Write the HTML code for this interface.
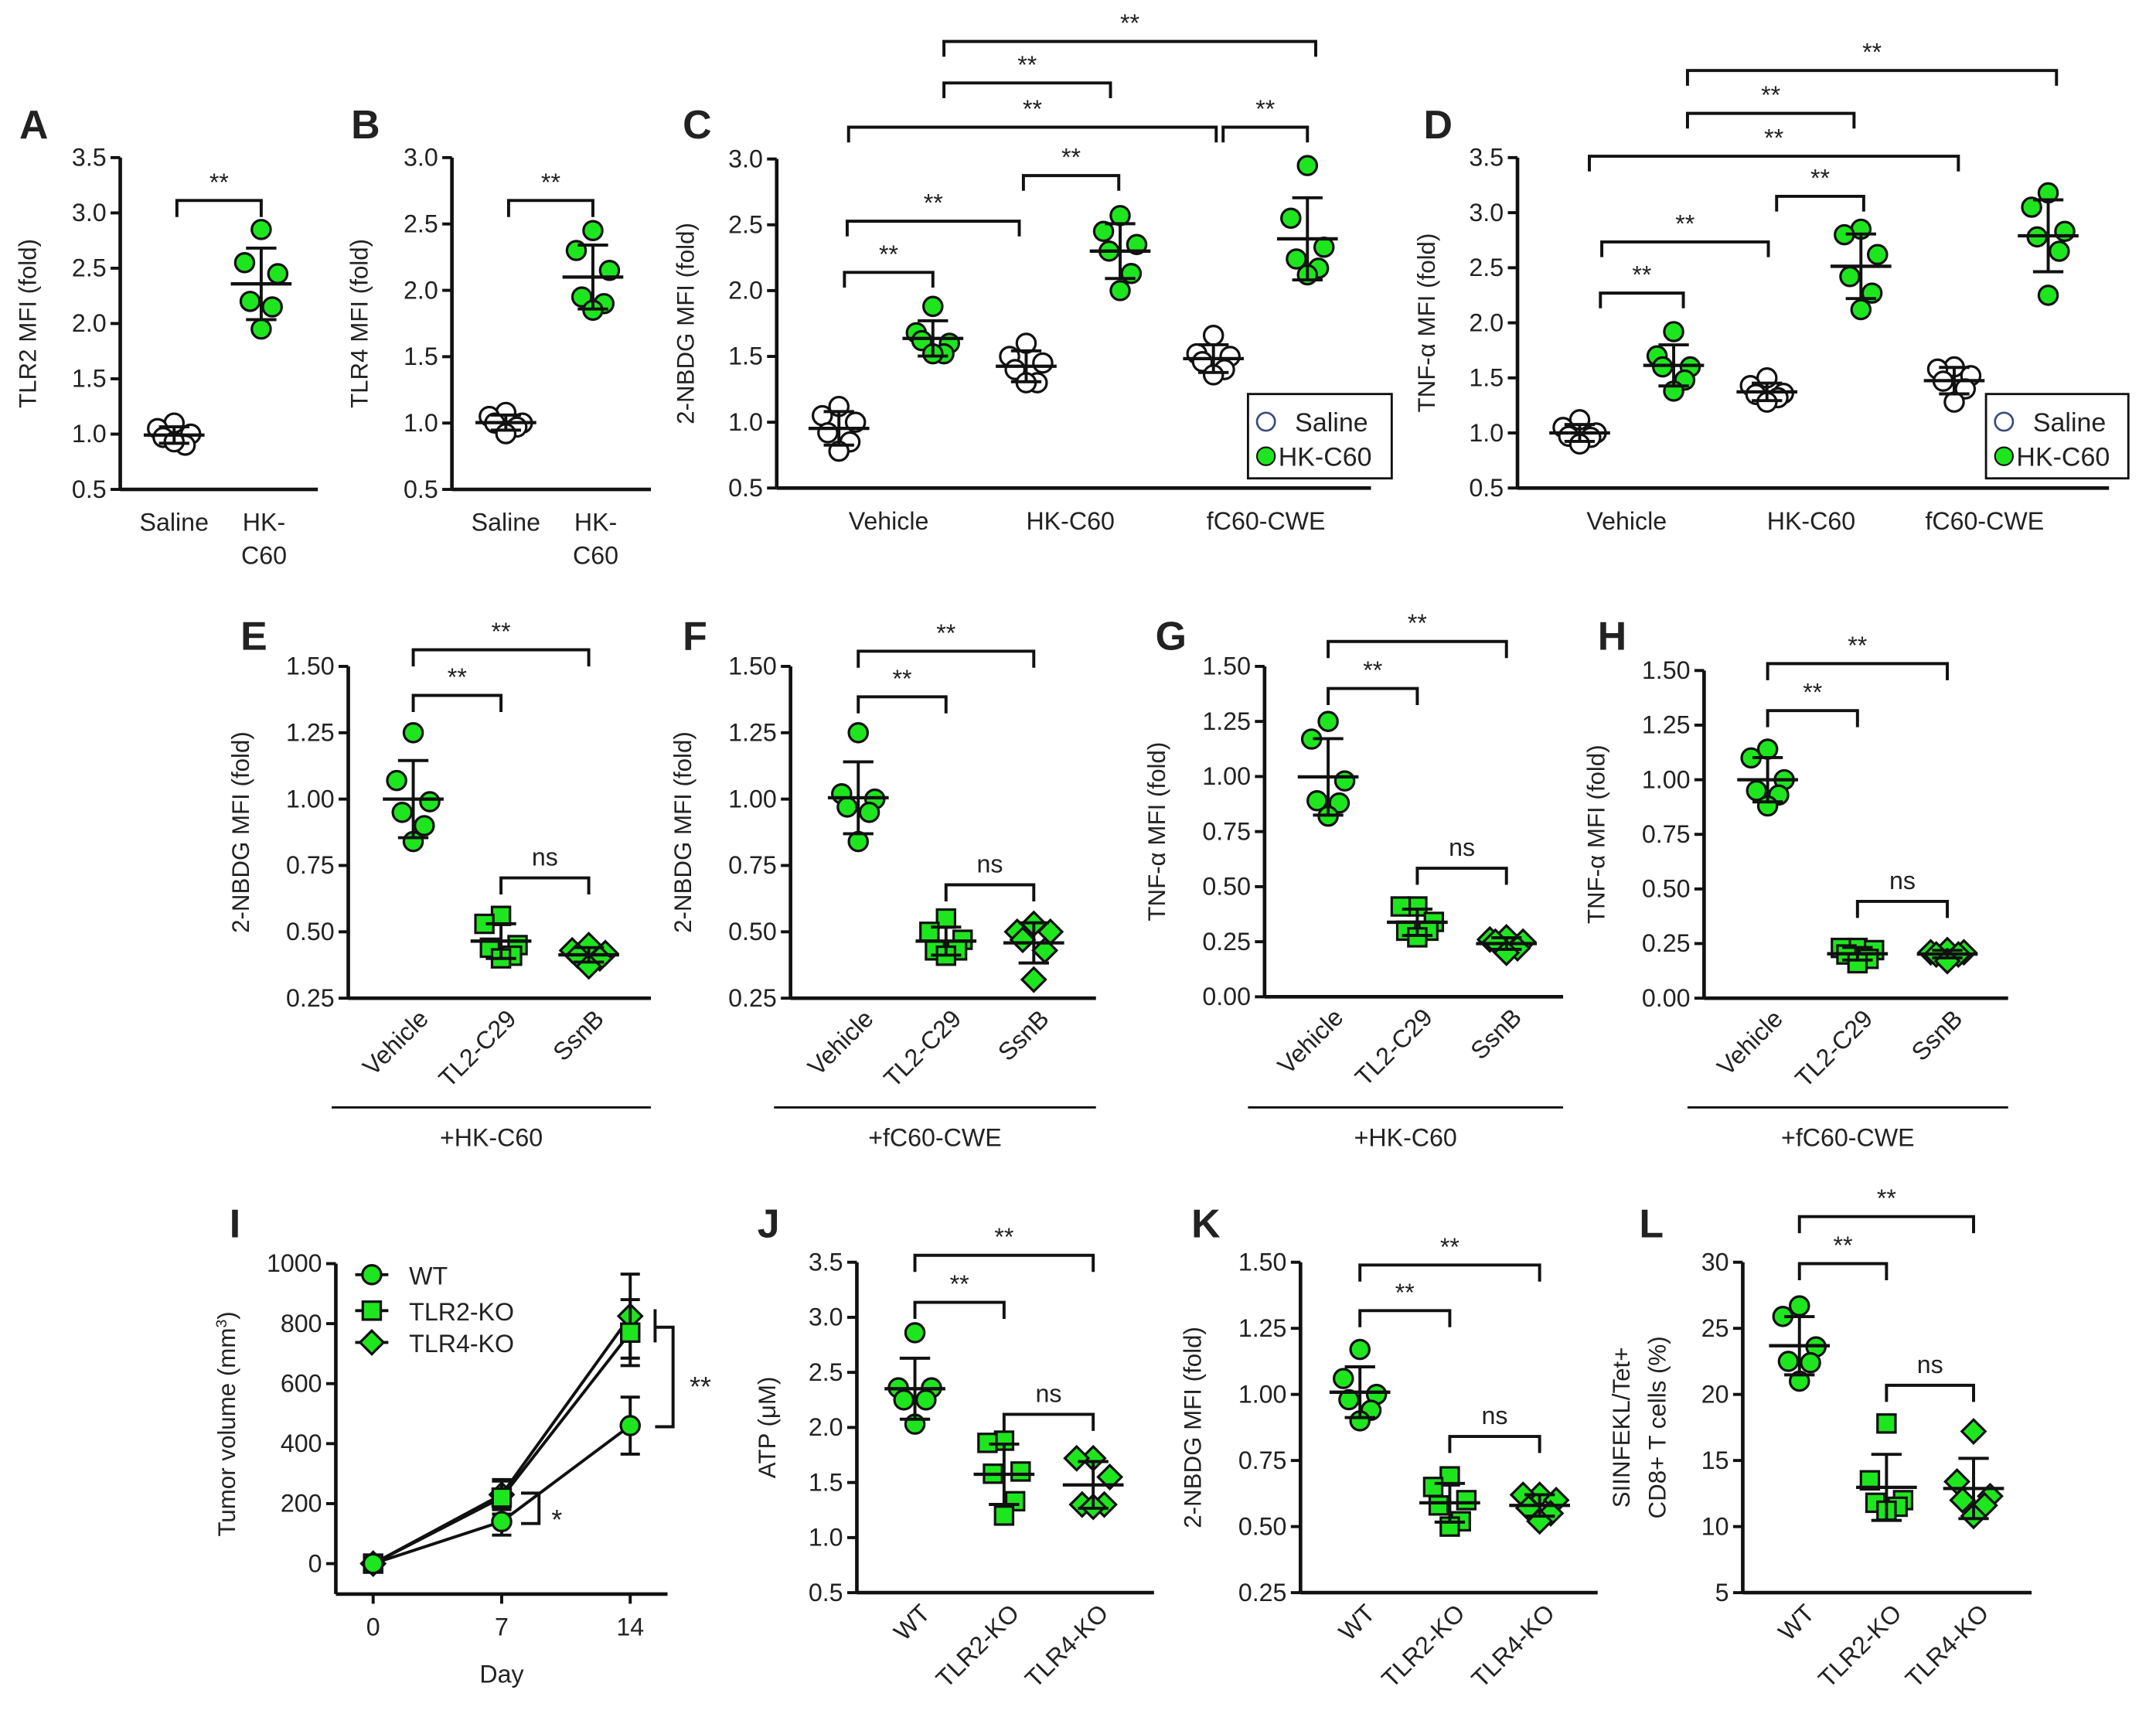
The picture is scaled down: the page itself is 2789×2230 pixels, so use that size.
<!DOCTYPE html>
<html><head><meta charset="utf-8"><style>
html,body{margin:0;padding:0;background:#fff}
svg{display:block}
text{font-family:"Liberation Sans",Arial,sans-serif;fill:#222}
</style></head><body>
<svg id="fig" xmlns="http://www.w3.org/2000/svg" width="2789" height="2230" viewBox="0 0 1560 1247" preserveAspectRatio="none"></svg>
<script>
// ---- data ----
const aSaline=[1.1,1.05,1.0,0.97,0.9,0.93];
const aHK=[2.85,2.55,2.45,2.2,2.15,1.95];
const bSaline=[1.08,1.05,1.0,1.0,0.97,0.92];
const bHK=[2.45,2.3,2.15,1.95,1.9,1.85];
const cVehSal=[1.12,1.05,1.0,0.92,0.85,0.78];
const cVehHK=[1.88,1.68,1.6,1.62,1.52,1.52];
const cHKSal=[1.6,1.5,1.45,1.4,1.3,1.3];
const cHKHK=[2.57,2.45,2.35,2.3,2.13,2.0];
const cFSal=[1.66,1.52,1.5,1.46,1.4,1.36];
const cFHK=[2.95,2.55,2.33,2.24,2.17,2.12];
const dVehSal=[1.12,1.05,1.0,0.97,0.96,0.9];
const dVehHK=[1.92,1.7,1.6,1.6,1.48,1.38];
const dHKSal=[1.5,1.43,1.36,1.35,1.32,1.28];
const dHKHK=[2.85,2.8,2.62,2.42,2.27,2.12];
const dFSal=[1.6,1.58,1.52,1.47,1.4,1.28];
const dFHK=[3.18,3.05,2.83,2.78,2.65,2.25];
const eVeh=[1.25,1.07,0.99,0.95,0.9,0.84];
const eTL2=[0.56,0.53,0.45,0.44,0.41,0.40];
const eSsn=[0.45,0.43,0.42,0.41,0.40,0.37];
const fVeh=[1.25,1.02,1.0,0.97,0.95,0.84];
const fTL2=[0.55,0.5,0.47,0.43,0.43,0.41];
const fSsn=[0.53,0.5,0.5,0.47,0.43,0.32];
const gVeh=[1.25,1.17,0.98,0.89,0.88,0.82];
const gTL2=[0.41,0.41,0.34,0.3,0.3,0.27];
const gSsn=[0.27,0.26,0.25,0.25,0.22,0.2];
const hVeh=[1.14,1.1,1.0,0.95,0.93,0.88];
const hTL2=[0.23,0.23,0.22,0.2,0.18,0.16];
const hSsn=[0.22,0.21,0.21,0.2,0.2,0.17];
const jWT=[2.86,2.36,2.36,2.25,2.25,2.03];
const jTLR2=[1.88,1.86,1.6,1.58,1.33,1.2];
const jTLR4=[1.72,1.72,1.55,1.3,1.3,1.28];
const kWT=[1.17,1.06,1.0,0.98,0.94,0.9];
const kTLR2=[0.69,0.65,0.6,0.58,0.52,0.5];
const kTLR4=[0.62,0.62,0.6,0.57,0.55,0.52];
const lWT=[26.7,25.9,23.6,22.5,22.4,21.0];
const lTLR2=[17.8,13.5,12.0,11.8,11.5,11.2];
const lTLR4=[17.2,13.4,12.3,12.0,11.6,10.8];
const iDays=[0,7,14];
const iWT=[0,140,460];
const iWTerr=[0,45,95];
const iTLR2=[0,220,770];
const iTLR2err=[0,55,110];
const iTLR4=[0,230,825];
const iTLR4err=[0,50,140];
const ticks05to35=[0.5,1.0,1.5,2.0,2.5,3.0,3.5];
const ticks05to30=[0.5,1.0,1.5,2.0,2.5,3.0];
const ticks025to150=[0.25,0.50,0.75,1.00,1.25,1.50];
const ticks0to150=[0.00,0.25,0.50,0.75,1.00,1.25,1.50];
const ticksL=[5,10,15,20,25,30];
const ticksI=[0,200,400,600,800,1000];
const catsAB=["Saline","HK-"];
const catsCD=["Vehicle","HK-C60","fC60-CWE"];
const catsEH=["Vehicle","TL2-C29","SsnB"];
const catsJL=["WT","TLR2-KO","TLR4-KO"];

const NS="http://www.w3.org/2000/svg";
const svg=document.getElementById('fig');
const GREEN="#1ee61e";
const TICKF=18, TITLEF=17.5;
function mk(tag,attrs,parent){const e=document.createElementNS(NS,tag);for(const k in attrs)e.setAttribute(k,attrs[k]);(parent||svg).appendChild(e);return e;}
function ln(x1,y1,x2,y2,w,g){return mk('line',{x1,y1,x2,y2,stroke:'#111','stroke-width':w||2.2},g);}
function tx(x,y,s,size,anchor,g,extra){const t=mk('text',Object.assign({x,y,'font-size':size,'text-anchor':anchor||'middle'},extra||{}),g);t.textContent=s;return t;}
function mean(a){return a.reduce((s,v)=>s+v,0)/a.length;}
function sd(a){const m=mean(a);return Math.sqrt(a.reduce((s,v)=>s+(v-m)*(v-m),0)/(a.length-1));}

function axes(g,L,ticks,dec,ylabel,labelOff){
  const ys=v=>L.yB-(v-L.min)/(L.max-L.min)*(L.yB-L.yT);
  const ya=mk('g',{},g);
  
  
  ln(L.x0,ys(ticks[ticks.length-1]),L.x0,L.axisY||L.yB,2.6,ya);
  ln(L.x0,L.axisY||L.yB,L.x1,L.axisY||L.yB,2.6,ya);
  ticks.forEach(t=>{ln(L.x0-7,ys(t),L.x0,ys(t),2.2,ya);
    const tl=tx(L.x0-10,ys(t)+6,t.toFixed(dec),TICKF,'end',ya);
    
    });
  const cy=(ys(ticks[ticks.length-1])+(L.axisY||L.yB))/2;
  if(Array.isArray(ylabel)){
    ylabel.forEach((s,i)=>{const t=tx(0,0,s,TITLEF,'middle',g,{transform:`translate(${L.x0-labelOff[i]},${cy}) rotate(-90)`});
      
      });
  } else if(ylabel) {
    const t=tx(0,0,ylabel,TITLEF,'middle',g,{transform:`translate(${L.x0-labelOff},${cy}) rotate(-90)`});
    
    
  }
  return ys;
}
function marker(g,shape,x,y,fill,stroke){
  let e;
  if(shape==='c') e=mk('circle',{cx:x,cy:y,r:6.8,fill,stroke:stroke||'#111','stroke-width':1.8},g);
  else if(shape==='s') e=mk('rect',{x:x-6.5,y:y-6.5,width:13,height:13,fill,stroke:'#111','stroke-width':1.8},g);
  else e=mk('polygon',{points:`${x},${y-8.5} ${x+8.5},${y} ${x},${y+8.5} ${x-8.5},${y}`,fill,stroke:'#111','stroke-width':1.8},g);
  
  
  return e;
}
const jit=[0,-12,12,-8,8,0];
function scatter(g,vals,cx,ys,shape,fill){
  const grp=mk('g',{},g);
  
  
  vals.forEach((v,i)=>marker(grp,shape,cx+jit[i],ys(v),fill));
  const m=mean(vals),s=sd(vals);
  ln(cx-22,ys(m),cx+22,ys(m),2.4,grp);
  ln(cx,ys(m+s),cx,ys(m-s),2.2,grp);
  ln(cx-11,ys(m+s),cx+11,ys(m+s),2.2,grp);
  ln(cx-11,ys(m-s),cx+11,ys(m-s),2.2,grp);
}
function bracket(g,xa,xb,y,label,drop){
  const b=mk('g',{},g);
  
  
  const d=drop||12;
  mk('polyline',{points:`${xa},${y+d} ${xa},${y} ${xb},${y} ${xb},${y+d}`,fill:'none',stroke:'#111','stroke-width':2.2},b);
  const t=tx((xa+xb)/2,y-(label==='ns'?9:7),label,18,'middle',b);
  
  
}
function letter(s,x,y){const t=tx(x,y,s,29,'start',svg,{'font-weight':'bold'});
  
  }
function panelG(name){const g=mk('g',{});return g;}

// ---- A & B ----
function twoPanel(name,L,ticks,ylabel,sal,hk,brY){
  const g=panelG(name);
  const ys=axes(g,L,ticks,1,ylabel,61);
  const xs=i=>L.x0+39+i*63;
  scatter(g,sal,xs(0),ys,'c','#fff');
  scatter(g,hk,xs(1),ys,'c',GREEN);
  bracket(g,xs(0)+2,xs(1),brY,'**');
  tx(xs(0),L.yB+30,catsAB[0],TICKF,'middle',g);
  tx(xs(1)+2,L.yB+30,catsAB[1],TICKF,'middle',g);
  tx(xs(1)+2,L.yB+54,'C60',TICKF,'middle',g);
}
twoPanel('panel-a',{x0:87,x1:230,yT:114,yB:354,min:0.5,max:3.5},ticks05to35,'TLR2 MFI (fold)',aSaline,aHK,145);
twoPanel('panel-b',{x0:327,x1:471,yT:114,yB:354,min:0.5,max:3.0},ticks05to30,'TLR4 MFI (fold)',bSaline,bHK,145);
letter('A',14,100);letter('B',254,100);

// ---- C & D ----
function sixPanel(name,L,ticks,ylabel,groups,br,leg){
  const g=panelG(name);
  const ys=axes(g,L,ticks,1,ylabel,60);
  const xs=(grp,k)=>L.x0+45+grp*L.gs+k*L.ps;
  groups.forEach((vals,i)=>scatter(g,vals,xs(Math.floor(i/2),i%2),ys,'c',i%2?GREEN:'#fff'));
  catsCD.forEach((c,i)=>{const t=tx((xs(i,0)+xs(i,1))/2+L.lo[i],L.yB+30,c,TICKF,'middle',g);
    
    });
  br.forEach(b=>bracket(g,xs(b[0],b[1])+b[5],xs(b[2],b[3])+b[6],b[4],'**',11));
  const lg=mk('g',{},g);
  
  
  mk('rect',{x:leg[0],y:285,width:leg[1],height:61,fill:'#fff',stroke:'#111','stroke-width':1.6},lg);
  mk('circle',{cx:leg[0]+13,cy:305,r:6.5,fill:'#fff',stroke:'#3a4a7a','stroke-width':1.5},lg);
  tx(leg[0]+34,312,'Saline',19,'start',lg);
  mk('circle',{cx:leg[0]+13,cy:330,r:6.5,fill:GREEN,stroke:'#111','stroke-width':1.2},lg);
  tx(leg[0]+22,337,'HK-C60',19,'start',lg);
}
sixPanel('panel-c',{x0:562,x1:992,yT:115,yB:353,min:0.5,max:3.0,gs:135.5,ps:68,lo:[2,-2,4]},ticks05to30,'2-NBDG MFI (fold)',
  [cVehSal,cVehHK,cHKSal,cHKHK,cFSal,cFHK],
  [[0,0,0,1,197,4,0],[0,0,1,0,160,6,-5],[1,0,1,1,127,-2,-1],[2,0,2,1,92,7,0],[0,0,2,0,92,7,2],[0,1,1,1,60,8,-7],[0,1,2,1,30,8,6]],[903,104]);
sixPanel('panel-d',{x0:1098,x1:1526,yT:114,yB:353,min:0.5,max:3.5,gs:135.5,ps:68,lo:[0,-2,-12]},ticks05to35,'TNF-α MFI (fold)',
  [dVehSal,dVehHK,dHKSal,dHKHK,dFSal,dFHK],
  [[0,0,0,1,212,15,7],[0,0,1,0,175,16,1],[1,0,1,1,142,7,2],[0,0,2,0,113,7,3],[0,1,1,1,82,10,-5],[0,1,2,1,51,10,6]],[1437,103]);
letter('C',494,100);letter('D',1030,100);

// ---- E-H ----
function rowPanel(name,L,ticks,dec,ylabel,lblOff,vals,shapes,cats,br,group){
  const g=panelG(name);
  const ys=axes(g,L,ticks,dec,ylabel,lblOff);
  const xs=i=>L.x0+L.c0+i*L.cs;
  vals.forEach((v,i)=>scatter(g,v,xs(i),ys,shapes[i],GREEN));
  cats.forEach((c,i)=>{const t=tx(0,0,c,TICKF,'end',g,{transform:`translate(${xs(i)+12},${L.yB+16}) rotate(-45)`});
    
    });
  bracket(g,xs(0),xs(1),br[0],'**');
  bracket(g,xs(0),xs(2),br[1],'**');
  bracket(g,xs(1),xs(2),br[2],'ns');
  if(group){
    const gg=mk('g',{},g);
    
    
    ln(L.x0-12,801,L.x1,801,1.6,gg);
    tx((L.x0-12+L.x1)/2,829,group,TICKF,'middle',gg);
  }
}
const shp=['c','s','d'];
rowPanel('panel-e',{x0:252,x1:471,yT:482,yB:722,min:0.25,max:1.5,c0:47,cs:63.5},ticks025to150,2,'2-NBDG MFI (fold)',72,[eVeh,eTL2,eSsn],shp,catsEH,[503,470,635],'+HK-C60');
rowPanel('panel-f',{x0:572,x1:793,yT:482,yB:722,min:0.25,max:1.5,c0:49,cs:63.5},ticks025to150,2,'2-NBDG MFI (fold)',72,[fVeh,fTL2,fSsn],shp,catsEH,[504,471,640],'+fC60-CWE');
rowPanel('panel-g',{x0:915,x1:1131,yT:482,yB:721,min:0,max:1.5,c0:46,cs:64.5},ticks0to150,2,'TNF-α MFI (fold)',72,[gVeh,gTL2,gSsn],shp,catsEH,[498,464,628],'+HK-C60');
rowPanel('panel-h',{x0:1233,x1:1453,yT:485,yB:722,min:0,max:1.5,c0:46,cs:65},ticks0to150,2,'TNF-α MFI (fold)',72,[hVeh,hTL2,hSsn],shp,catsEH,[514,480,652],'+fC60-CWE');
letter('E',174,470);letter('F',494,470);letter('G',836,470);letter('H',1156,470);

// ---- J-L ----
rowPanel('panel-j',{x0:620,x1:835,yT:913,yB:1152,min:0.5,max:3.5,c0:42,cs:64.5},ticks05to35,1,'ATP (μM)',59,[jWT,jTLR2,jTLR4],shp,catsJL,[942,908,1023],null);
rowPanel('panel-k',{x0:941,x1:1156,yT:913,yB:1152,min:0.25,max:1.5,c0:43,cs:65},ticks025to150,2,'2-NBDG MFI (fold)',72,[kWT,kTLR2,kTLR4],shp,catsJL,[948,915,1039],null);
rowPanel('panel-l',{x0:1261,x1:1470,yT:913,yB:1152,min:5,max:30,c0:41,cs:63},ticksL,0,['SIINFEKL/Tet+','CD8+ T cells (%)'],[82,56],[lWT,lTLR2,lTLR4],shp,catsJL,[914,880,1002],null);
letter('J',548,895);letter('K',862,895);letter('L',1186,895);

// ---- I ----
(function(){
  const g=panelG('panel-i');
  const L={x0:243,x1:483,yT:914,yB:1131,min:0,max:1000,axisY:1153};
  const ys=axes(g,L,ticksI,0,'',0);
  const xs=d=>270+d/14*186;
  const ttl=tx(0,0,'',TITLEF,'middle',g,{transform:`translate(170,1030) rotate(-90)`});
  
  
  ttl.textContent='Tumor volume (mm';
  const sup=mk('tspan',{'baseline-shift':'super','font-size':11},ttl);sup.textContent='3';
  const cl=mk('tspan',{},ttl);cl.textContent=')';
  iDays.forEach(d=>{ln(xs(d),1153,xs(d),1160,2.2,g);
    const t=tx(xs(d),1183,String(d),TICKF,'middle',g);
    
    });
  const dt=tx(363,1217,'Day',TICKF,'middle',g);
  
  
  const series=[[iTLR4,iTLR4err,'d'],[iTLR2,iTLR2err,'s'],[iWT,iWTerr,'c']];
  series.forEach(([v,e,s])=>{
    const sg=mk('g',{},g);
    
    
    mk('polyline',{points:iDays.map((d,i)=>`${xs(d)},${ys(v[i])}`).join(' '),fill:'none',stroke:'#111','stroke-width':2.2},sg);
    iDays.forEach((d,i)=>{if(e[i]>0){ln(xs(d),ys(v[i]+e[i]),xs(d),ys(v[i]-e[i]),2.2,sg);
      ln(xs(d)-7,ys(v[i]+e[i]),xs(d)+7,ys(v[i]+e[i]),2.2,sg);ln(xs(d)-7,ys(v[i]-e[i]),xs(d)+7,ys(v[i]-e[i]),2.2,sg);}
      marker(sg,s,xs(d),ys(v[i]),GREEN);});
  });
  const lg=mk('g',{},g);
  
  
  [['WT','c',922],['TLR2-KO','s',948],['TLR4-KO','d',971]].forEach(([n,s,y])=>{
    ln(257,y,281,y,2.2,lg);marker(lg,s,269,y,GREEN);tx(296,y+7,n,TICKF,'start',lg);});
  const bg=mk('g',{},g);
  
  
  mk('polyline',{points:'377,1080 390,1080 390,1102 377,1102',fill:'none',stroke:'#111','stroke-width':2.2},bg);
  tx(399,1106,'*',20,'start',bg);
  ln(474,947,474,971,2.2,bg);
  mk('polyline',{points:'474,960 487,960 487,1032 474,1032',fill:'none',stroke:'#111','stroke-width':2.2},bg);
  tx(499,1010,'**',20,'start',bg);
})();
letter('I',166,895);
</script>
</body></html>
